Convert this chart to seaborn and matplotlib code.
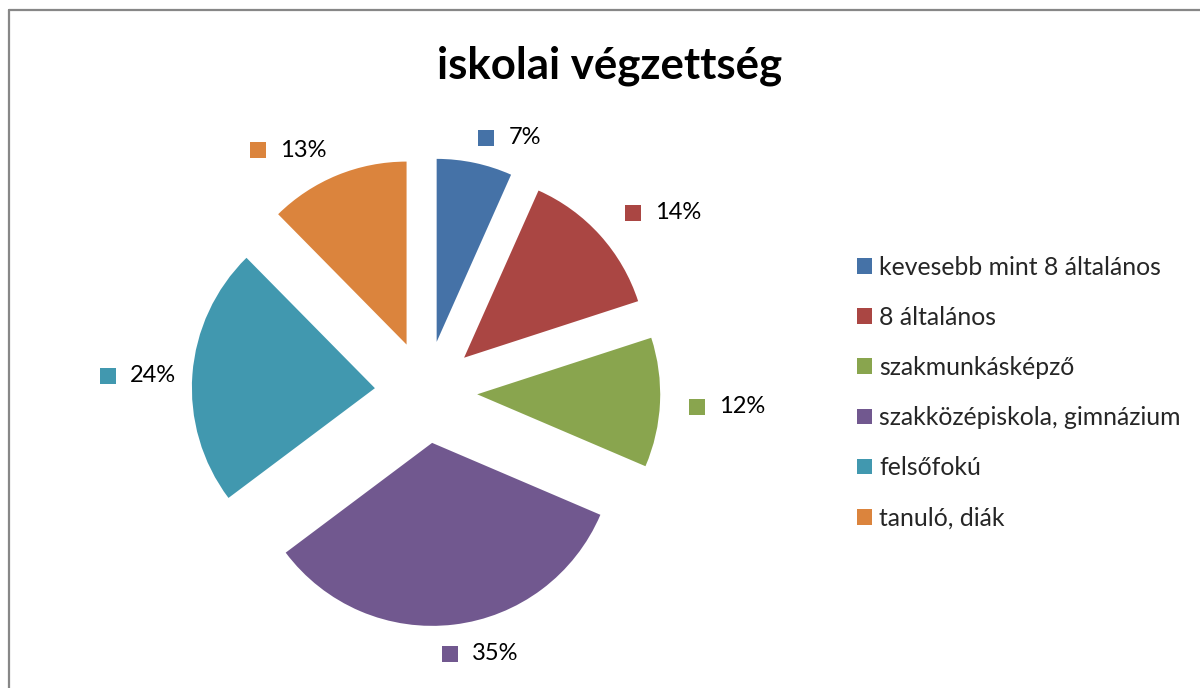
import numpy as np
import matplotlib
matplotlib.use("Agg")
import matplotlib.pyplot as plt
from matplotlib.lines import Line2D
from matplotlib.patches import Patch
import seaborn as sns

# data
categories = ["kevesebb mint 8 általános", "8 általános", "szakmunkásképző",
              "szakközépiskola, gimnázium", "felsőfokú", "tanuló, diák"]
values = [7, 14, 12, 35, 24, 13]
pct_labels = ["7%", "14%", "12%", "35%", "24%", "13%"]

colors = ["#4572A7", "#AA4643", "#89A54E", "#71588F", "#4198AF", "#DB843D"]

# label marker positions relative to pie centre (radius units) - layout only
label_pos = [(0.33, 1.39), (1.13, 0.98), (1.48, -0.08),
             (0.13, -1.43), (-1.74, 0.09), (-0.92, 1.32)]

sns.set_theme(style="white")
plt.rcParams['font.family'] = ['Lato', 'DejaVu Sans']

fig = plt.figure(figsize=(12, 6.88), dpi=100)
ax = fig.add_axes([0, 0, 1, 1])

wedges, _ = ax.pie(values, colors=colors, startangle=90, counterclock=False,
                   explode=[0.28] * len(values), radius=1, center=(0, 0),
                   wedgeprops=dict(linewidth=0))

# pie centre at (426, 392) px, radius 183 px
px = 183.0
ax.set_xlim(-426 / px, (1200 - 426) / px)
ax.set_ylim(-(688 - 392) / px, 392 / px)
ax.set_aspect('equal', adjustable='box')
ax.axis('off')

for (lx, ly), lab, c in zip(label_pos, pct_labels, colors):
    ax.scatter([lx], [ly], marker='s', s=120, color=c, linewidths=0)
    ax.text(lx + 0.12, ly, lab, fontsize=17, va='center', ha='left', color='black')

fig.text(0.508, 1 - 78 / 688, "iskolai végzettség", fontsize=31.5, fontweight='bold',
         ha='center', va='baseline', color='black')

handles = [Patch(facecolor=c, edgecolor='none') for c in colors]
fig.legend(handles, categories, loc='center left', bbox_to_anchor=(0.714, 0.4295),
           frameon=False, fontsize=17.8, handlelength=0.6, handleheight=0.6,
           handletextpad=0.3, labelspacing=1.1, borderpad=0, borderaxespad=0)

# chart area border (top and left visible)
fig.add_artist(Line2D([8.5 / 1200, 8.5 / 1200], [0, 1 - 9.5 / 688],
                      color='#878787', linewidth=1.6))
fig.add_artist(Line2D([8.5 / 1200, 1], [1 - 9.5 / 688, 1 - 9.5 / 688],
                      color='#878787', linewidth=1.6))

fig.savefig("out.png", dpi=100)
